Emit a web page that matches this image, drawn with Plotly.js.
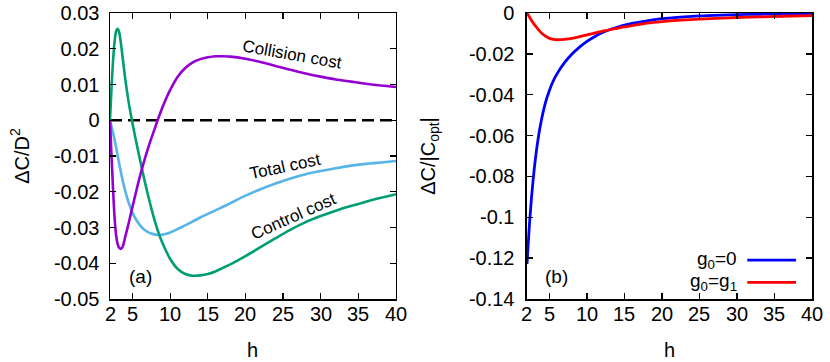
<!DOCTYPE html>
<html>
<head>
<meta charset="utf-8">
<script src="https://cdn.plot.ly/plotly-3.0.1.min.js"></script>
<style>
  html, body { margin: 0; padding: 0; background: #fff; }
  #chart { width: 830px; height: 362px; }
</style>
</head>
<body>
<div id="chart"></div>
<script>
// ---- Panel (a) data ----
const hA = [2, 2.2, 2.4, 2.6, 2.8, 3.0, 3.2, 3.45, 3.7, 4.0, 4.5, 5.0, 5.5, 6.0, 6.5, 7.0, 7.5, 8.0, 8.5, 9.0,
            10, 11, 12, 13, 14, 15, 16, 17, 18, 20, 22, 24, 26, 28, 30, 32, 34, 36, 38, 40];
const collisionCost = [0, -0.010, -0.019, -0.027, -0.032, -0.0345, -0.0356, -0.0360, -0.0353, -0.0328, -0.0286, -0.0241,
            -0.0197, -0.0155, -0.0117, -0.0082, -0.0050, -0.0020, 0.0010, 0.0038,
            0.0085, 0.0122, 0.0146, 0.0162, 0.0171, 0.0176, 0.0179, 0.0179, 0.0178, 0.0172, 0.0163, 0.0152,
            0.0141, 0.0131, 0.0122, 0.0114, 0.0108, 0.0102, 0.0097, 0.0093];
const controlCost = [0, 0.009, 0.0165, 0.0218, 0.0248, 0.0256, 0.0248, 0.0215, 0.0172, 0.0120, 0.0048, -0.0010,
            -0.0062, -0.0112, -0.0160, -0.0205, -0.0247, -0.0285, -0.0318, -0.0345,
            -0.0388, -0.0416, -0.0430, -0.0435, -0.0434, -0.0430, -0.0423, -0.0413, -0.0403, -0.0380, -0.0355, -0.0330,
            -0.0306, -0.0285, -0.0268, -0.0253, -0.0240, -0.0228, -0.0217, -0.0207];
const totalCost = [0, -0.0017, -0.0035, -0.0054, -0.0075, -0.0097, -0.0119, -0.0145, -0.0170, -0.0196, -0.0232, -0.0259,
            -0.0279, -0.0294, -0.0305, -0.0312, -0.0317, -0.0320, -0.0321, -0.0320,
            -0.0314, -0.0304, -0.0294, -0.0283, -0.0272, -0.0262, -0.0252, -0.0242, -0.0232, -0.0211, -0.0193, -0.0177,
            -0.0163, -0.0151, -0.0142, -0.0134, -0.0127, -0.0122, -0.0118, -0.0114];
const zeroX = [2, 40];
const zeroY = [0, 0];

// ---- Panel (b) data ----
const hB = [2, 2.4, 2.8, 3.2, 3.6, 4, 4.5, 5, 5.5, 6, 7, 8, 9, 10, 11, 12, 13, 14, 15, 16, 18, 20, 22, 25, 28, 30, 33, 36, 40];
const gZero = [-0.1229, -0.0998, -0.0824, -0.0691, -0.0589, -0.0510, -0.0434, -0.0378, -0.0333, -0.0298, -0.0243, -0.0201,
            -0.0167, -0.0139, -0.0116, -0.0097, -0.0082, -0.0070, -0.0059, -0.0051, -0.0038, -0.0028, -0.0021,
            -0.0014, -0.0010, -0.0008, -0.0006, -0.0004, -0.0003];
const gOne = [0, -0.0024, -0.0047, -0.0067, -0.0085, -0.0100, -0.0114, -0.0124, -0.0129, -0.0131, -0.0129, -0.0124,
            -0.0116, -0.0107, -0.0098, -0.0090, -0.0082, -0.0075, -0.0068, -0.0062, -0.0050, -0.0042, -0.0036,
            -0.0030, -0.0025, -0.0022, -0.0019, -0.0016, -0.0013];

// ---- Tick labels ----
const xTickVals = [2, 5, 10, 15, 20, 25, 30, 35, 40];
const xTickText = ['2', '5', '10', '15', '20', '25', '30', '35', '40'];
const yTickValsA = [0.03, 0.02, 0.01, 0, -0.01, -0.02, -0.03, -0.04, -0.05];
const yTickTextA = ['0.03', '0.02', '0.01', '0', '-0.01', '-0.02', '-0.03', '-0.04', '-0.05'];
const yTickValsB = [0, -0.02, -0.04, -0.06, -0.08, -0.1, -0.12, -0.14];
const yTickTextB = ['0', '-0.02', '-0.04', '-0.06', '-0.08', '-0.1', '-0.12', '-0.14'];

const FONT = 'Liberation Sans, Arial, sans-serif';
const PURPLE = '#9400d3', GREEN = '#009e73', LBLUE = '#56b4e9';

const traces = [
  {x: zeroX, y: zeroY, xaxis: 'x', yaxis: 'y', mode: 'lines',
   line: {color: '#000', width: 2.5, dash: '12px,6px'}, hoverinfo: 'skip'},
  {x: hA, y: totalCost, xaxis: 'x', yaxis: 'y', mode: 'lines', name: 'Total cost',
   line: {color: LBLUE, width: 2.6, shape: 'spline', smoothing: 0.8}},
  {x: hA, y: controlCost, xaxis: 'x', yaxis: 'y', mode: 'lines', name: 'Control cost',
   line: {color: GREEN, width: 2.6, shape: 'spline', smoothing: 0.8}},
  {x: hA, y: collisionCost, xaxis: 'x', yaxis: 'y', mode: 'lines', name: 'Collision cost',
   line: {color: PURPLE, width: 2.6, shape: 'spline', smoothing: 0.8}},
  {x: hB, y: gZero, xaxis: 'x2', yaxis: 'y2', mode: 'lines', name: 'g0=0',
   line: {color: '#0000ff', width: 2.8, shape: 'spline', smoothing: 0.8}},
  {x: hB, y: gOne, xaxis: 'x2', yaxis: 'y2', mode: 'lines', name: 'g0=g1',
   line: {color: '#ff0000', width: 2.8, shape: 'spline', smoothing: 0.8}}
];

const axisCommon = {
  showline: true, linecolor: '#000', linewidth: 1.5, mirror: 'ticks',
  ticks: 'inside', ticklen: 6, tickwidth: 1.3, tickcolor: '#000',
  showgrid: false, zeroline: false,
  tickfont: {family: FONT, size: 20, color: '#000'}
};

// x tick labels placed as annotations (closer to the axis than Plotly's default)
const xTickAnnots = [];
[['x', 'y'], ['x2', 'y2']].forEach(([xa, ya]) => {
  xTickVals.forEach((v, i) => {
    xTickAnnots.push({xref: xa, yref: ya + ' domain', x: v, y: 0, yshift: -15,
      xanchor: 'center', yanchor: 'middle', text: xTickText[i], showarrow: false,
      font: {family: FONT, size: 20, color: '#000'}});
  });
});

const layout = {
  width: 830, height: 362,
  margin: {l: 110, r: 18, t: 13, b: 63},
  paper_bgcolor: '#fff', plot_bgcolor: '#fff',
  showlegend: false,
  font: {family: FONT, color: '#000'},
  xaxis: Object.assign({}, axisCommon, {
    domain: [0, 0.4074], range: [2, 40], tickmode: 'array', tickvals: xTickVals, showticklabels: false
  }),
  yaxis: Object.assign({}, axisCommon, {
    range: [-0.05, 0.03], tickmode: 'array', tickvals: yTickValsA, ticktext: yTickTextA,
    ticklabelstandoff: 5,
    title: {text: 'ΔC/D<sup>2</sup>', font: {family: FONT, size: 20}, standoff: 19}
  }),
  xaxis2: Object.assign({}, axisCommon, {
    domain: [0.594, 1], range: [2, 40], anchor: 'y2', tickmode: 'array', tickvals: xTickVals, showticklabels: false
  }),
  yaxis2: Object.assign({}, axisCommon, {
    anchor: 'x2', range: [-0.14, 0], tickmode: 'array', tickvals: yTickValsB, ticktext: yTickTextB,
    ticklabelstandoff: 7,
    title: {text: 'ΔC/|C<sub>opt</sub>|', font: {family: FONT, size: 20}, standoff: 28}
  }),
  annotations: xTickAnnots.concat([
    {xref: 'x domain', yref: 'y domain', x: 0.5, y: 0, yshift: -51, text: 'h', showarrow: false,
     xanchor: 'center', yanchor: 'middle', font: {family: FONT, size: 20, color: '#000'}},
    {xref: 'x2 domain', yref: 'y2 domain', x: 0.5, y: 0, yshift: -51, text: 'h', showarrow: false,
     xanchor: 'center', yanchor: 'middle', font: {family: FONT, size: 20, color: '#000'}},
    {xref: 'x domain', yref: 'y domain', x: 0.635, y: 0.855, text: 'Collision cost', showarrow: false,
     xanchor: 'center', yanchor: 'middle', textangle: 10, font: {family: FONT, size: 17, color: '#000'}},
    {xref: 'x domain', yref: 'y domain', x: 0.612, y: 0.465, text: 'Total cost', showarrow: false,
     xanchor: 'center', yanchor: 'middle', textangle: -12, font: {family: FONT, size: 17, color: '#000'}},
    {xref: 'x domain', yref: 'y domain', x: 0.641, y: 0.289, text: 'Control cost', showarrow: false,
     xanchor: 'center', yanchor: 'middle', textangle: -24, font: {family: FONT, size: 17, color: '#000'}},
    {xref: 'x domain', yref: 'y domain', x: 0.105, y: 0.078, text: '(a)', showarrow: false,
     xanchor: 'center', yanchor: 'middle', font: {family: FONT, size: 19, color: '#000'}},
    {xref: 'x2 domain', yref: 'y2 domain', x: 0.104, y: 0.078, text: '(b)', showarrow: false,
     xanchor: 'center', yanchor: 'middle', font: {family: FONT, size: 19, color: '#000'}},
    {xref: 'x2 domain', yref: 'y2 domain', x: 0.743, y: 0.136, xanchor: 'right', yanchor: 'middle',
     text: 'g<sub>0</sub>=0', showarrow: false, font: {family: FONT, size: 19, color: '#000'}},
    {xref: 'x2 domain', yref: 'y2 domain', x: 0.743, y: 0.058, xanchor: 'right', yanchor: 'middle',
     text: 'g<sub>0</sub>=g<sub>1</sub>', showarrow: false, font: {family: FONT, size: 19, color: '#000'}}
  ]),
  shapes: [
    {type: 'line', xref: 'x2 domain', yref: 'y2 domain', x0: 0.773, x1: 0.944, y0: 0.136, y1: 0.136,
     line: {color: '#0000ff', width: 2.8}},
    {type: 'line', xref: 'x2 domain', yref: 'y2 domain', x0: 0.773, x1: 0.944, y0: 0.058, y1: 0.058,
     line: {color: '#ff0000', width: 2.8}}
  ]
};

Plotly.newPlot('chart', traces, layout, {staticPlot: true, displayModeBar: false});
</script>
</body>
</html>
